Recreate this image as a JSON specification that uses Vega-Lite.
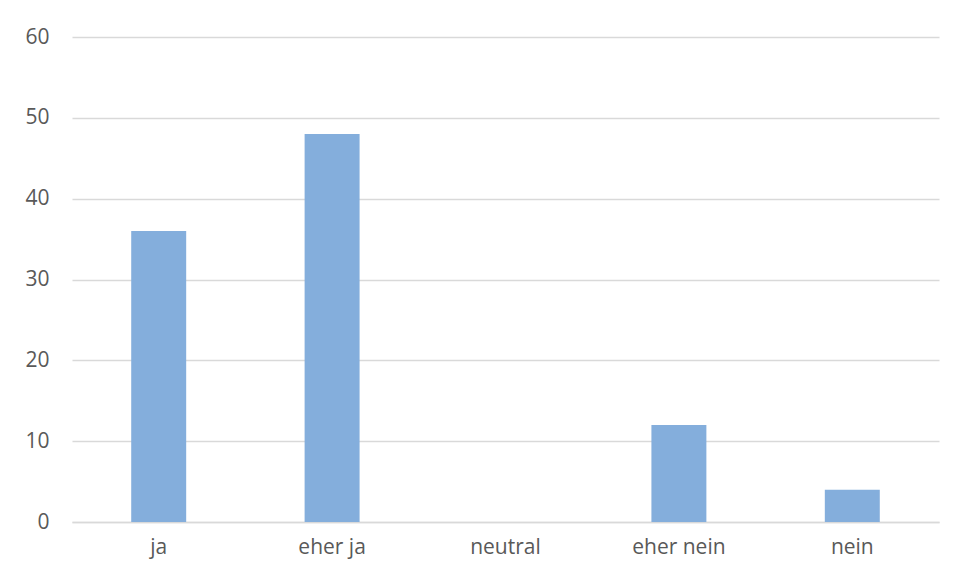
{
  "$schema": "https://vega.github.io/schema/vega-lite/v6.json",
  "autosize": {"type": "none"},
  "width": 867,
  "height": 485,
  "padding": {"left": 72, "top": 37, "right": 18, "bottom": 56},
  "background": "white",
  "config": {"view": {"stroke": null}, "font": "Open Sans"},
  "data": {"values": [
    {"antwort": "ja", "anzahl": 36},
    {"antwort": "eher ja", "anzahl": 48},
    {"antwort": "neutral", "anzahl": 0},
    {"antwort": "eher nein", "anzahl": 12},
    {"antwort": "nein", "anzahl": 4}
  ]},
  "mark": {"type": "bar", "color": "#84AEDC"},
  "encoding": {
    "x": {
      "field": "antwort", "type": "nominal", "sort": null,
      "scale": {"paddingInner": 0.683, "paddingOuter": 0.3415},
      "axis": {"title": null, "labelAngle": 0, "labelFontSize": 21, "labelColor": "#595959", "labelPadding": 14, "ticks": false, "domain": true, "domainColor": "#D9D9D9", "domainWidth": 1.5, "labelFont": "Open Sans"}
    },
    "y": {
      "field": "anzahl", "type": "quantitative",
      "scale": {"domain": [0, 60], "nice": false},
      "axis": {"title": null, "values": [0, 10, 20, 30, 40, 50, 60], "labelFontSize": 21, "labelColor": "#595959", "labelPadding": 23, "ticks": false, "domain": false, "gridColor": "#D9D9D9", "gridWidth": 1.5, "labelFont": "Open Sans"}
    }
  }
}
